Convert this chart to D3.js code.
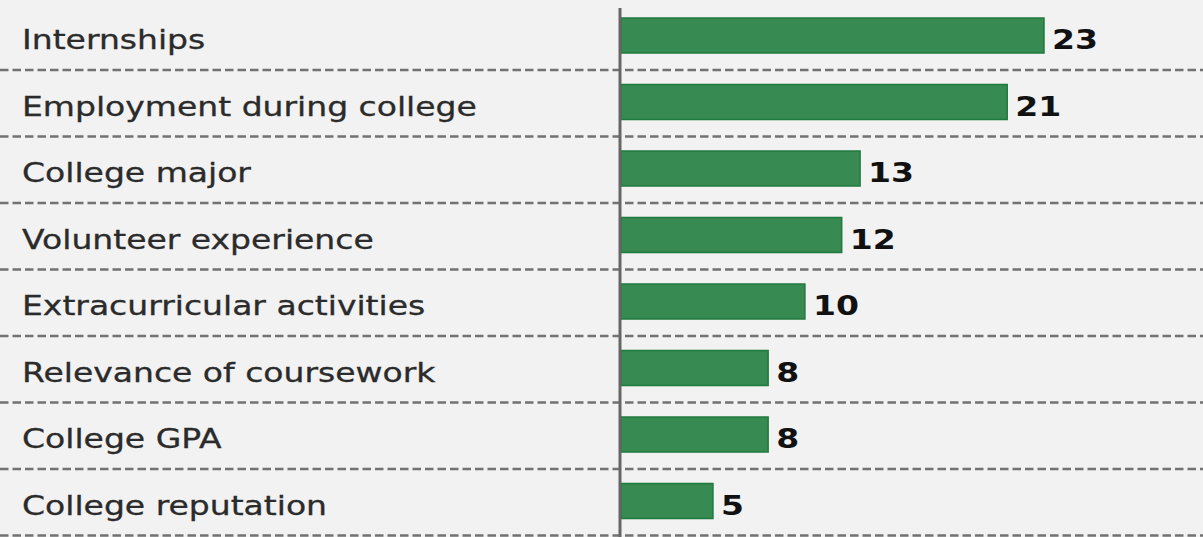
<!DOCTYPE html>
<html>
  <head>
    <meta charset="utf-8">
    <title>Factors in hiring decisions</title>
    <script src="https://cdn.jsdelivr.net/npm/d3@7"></script>
    <style>
      body { margin: 0; background: #f2f2f2; }
      svg { display: block; }
      .label { font-family: "DejaVu Sans", Verdana, sans-serif; font-size: 26px; fill: #2b2b2b; stroke: #2b2b2b; stroke-width: 0.3px; }
      .value { font-family: "DejaVu Sans", Verdana, sans-serif; font-size: 26px; font-weight: bold; fill: #111; }
    </style>
  </head>
  <body>
    <div id="chart"></div>
    <script>
      // data
      var categories = ["Internships", "Employment during college", "College major",
                        "Volunteer experience", "Extracurricular activities",
                        "Relevance of coursework", "College GPA", "College reputation"];
      var values = [23, 21, 13, 12, 10, 8, 8, 5];

      var rows = categories.map(function(c, i) { return {name: c, value: values[i]}; });

      var width = 1203, height = 537;
      var stretch = 1.27; // the source text is drawn wide

      var svg = d3.select("#chart")
        .append("svg")
          .attr("width", width)
          .attr("height", height);

      svg.append("rect")
        .attr("width", width)
        .attr("height", height)
        .attr("fill", "#f2f2f2");

      var y = d3.scaleBand()
        .domain(categories)
        .range([3, 535]);

      var x = d3.scaleLinear()
        .domain([0, 23])
        .range([621, 1044]);

      // dashed separators
      svg.selectAll("line.sep")
        .data(rows)
        .enter()
        .append("line")
          .attr("class", "sep")
          .attr("x1", 0)
          .attr("x2", width)
          .attr("y1", function(d) { return y(d.name) + y.step() + 0.5; })
          .attr("y2", function(d) { return y(d.name) + y.step() + 0.5; })
          .attr("stroke", "#727272")
          .attr("stroke-width", 2.5)
          .attr("stroke-dasharray", "8.5,4");

      // category labels
      svg.selectAll("text.label")
        .data(rows)
        .enter()
        .append("text")
          .attr("class", "label")
          .attr("transform", function(d) {
            return "translate(22," + (y(d.name) + 46) + ") scale(" + stretch + ",1)";
          })
          .text(function(d) { return d.name; });

      // bars, with a faint light halo like the source
      svg.selectAll("rect.bar")
        .data(rows)
        .enter()
        .append("rect")
          .attr("class", "bar")
          .attr("x", x(0))
          .attr("y", function(d) { return y(d.name) + 15; })
          .attr("width", function(d) { return x(d.value) - x(0); })
          .attr("height", 35)
          .attr("fill", "#368a52")
          .attr("stroke", "#1f7a3e")
          .attr("stroke-width", 1.5);

      // value labels
      svg.selectAll("text.value")
        .data(rows)
        .enter()
        .append("text")
          .attr("class", "value")
          .attr("transform", function(d) {
            return "translate(" + (x(d.value) + 8) + "," + (y(d.name) + 46) + ") scale(" + stretch + ",1)";
          })
          .text(function(d) { return d.value; });

      // vertical axis line
      svg.append("line")
        .attr("x1", 620)
        .attr("x2", 620)
        .attr("y1", 8)
        .attr("y2", height)
        .attr("stroke", "#666")
        .attr("stroke-width", 3);
    </script>
  </body>
</html>
